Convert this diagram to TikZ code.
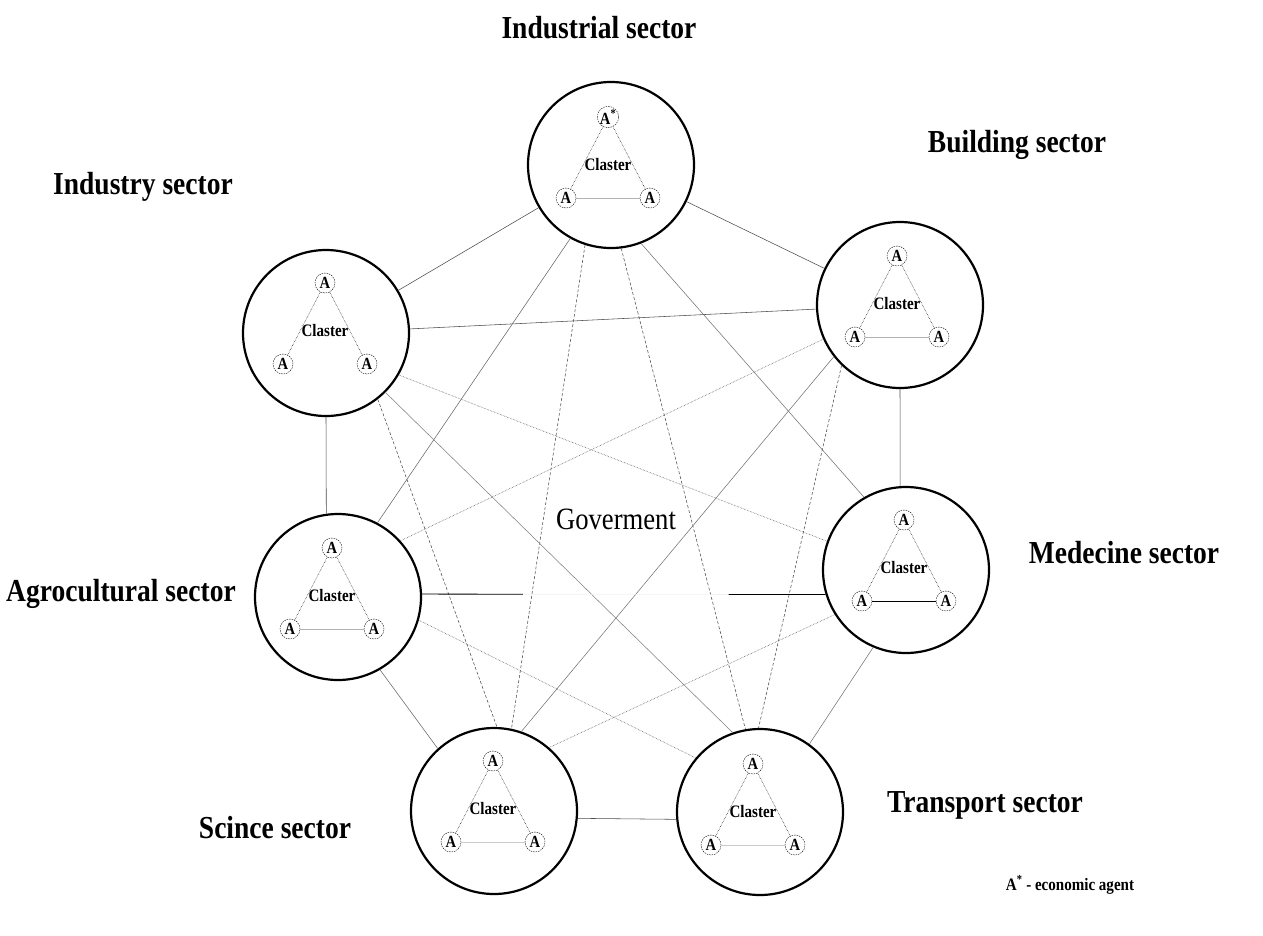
\documentclass[tikz,border=0pt]{standalone}
\usepackage{fontspec}
\usepackage{graphicx}
\setmainfont{Liberation Serif}
\usetikzlibrary{calc}
\newcommand{\tx}[1]{\scalebox{0.86}[1]{#1}}
\tikzset{
 sector/.style={circle, draw, line width=2.2pt, minimum size=166pt, inner sep=0pt},
 agent/.style={circle, draw, dash pattern=on 1.5pt off 1pt, line width=0.4pt, minimum size=20pt, inner sep=0pt, font=\fontsize{17}{17}\selectfont\bfseries},
 clabel/.style={font=\fontsize{17.5}{18}\selectfont\bfseries, inner sep=0pt},
 tside/.style={densely dotted, line width=0.5pt},
 tbase/.style={line width=0.6pt, gray!60},
 link/.style={line width=0.55pt, black!70},
 title/.style={font=\fontsize{32}{34}\selectfont\bfseries, inner sep=0pt},
}
\newcommand{\mysector}[5]{%
 \node[sector] (#1) at (#2) {};
 \node[clabel] (#1c) at (#3) {\tx{Claster}};
 \node[agent] (#1t) at ($(#3)+(0,-48)$) {\tx{#4}};
 \node[agent] (#1l) at ($(#3)+(-42,33)$) {\tx{A}};
 \node[agent] (#1r) at ($(#3)+(42,33)$) {\tx{A}};
 \draw[tside] (#1t) -- (#1l);
 \draw[tside] (#1t) -- (#1r);
 \draw[#5] (#1l) -- (#1r);
}
\begin{document}
\begin{tikzpicture}[x=1pt,y=-1pt]
\useasboundingbox (0,0) rectangle (1263,935);
% sectors
\mysector{ind}{611,165}{608,165}{A\textsuperscript{*}}{tbase}
\mysector{inds}{326,333}{325,331}{A}{draw=none}
\mysector{bld}{900,305}{897,304}{A}{tbase}
\mysector{med}{906,570}{904,568}{A}{line width=0.8pt, black}
\mysector{agr}{338,597}{332,596}{A}{tbase}
\mysector{sci}{494,811}{493,809}{A}{line width=0.6pt, gray!40}
\mysector{trn}{760,812}{753,812}{A}{line width=0.6pt, gray!40}
% titles
\node[title] (tind) at (599,28) {\tx{Industrial sector}};
\node[title] (tbld) at (1017,145) {\tx{Building sector}};
\node[title] (tinds) at (143,187) {\tx{Industry sector}};
\node[title] (tagr) at (121,594) {\tx{Agrocultural sector}};
\node[title] (tmed) at (1124,553) {\tx{Medecine sector}};
\node[title] (ttrn) at (985,805) {\tx{Transport sector}};
\node[title] (tsci) at (275,828) {\tx{Scince sector}};
\node[font=\fontsize{31}{33}\selectfont, inner sep=0pt] (gov) at (616,519) {\tx{Goverment}};
\node[font=\fontsize{17.5}{18}\selectfont\bfseries, inner sep=0pt] (legend) at (1070,885) {\tx{A\textsuperscript{*} - economic agent}};
% links
\draw[link] (ind) -- (bld);
\draw[link] (ind) -- (inds);
\draw[link, black!60] (ind.241) -- (agr.62.5);
\draw[link, densely dashed] (ind.252.6) -- (sci.78);
\draw[link, densely dashed] (ind.277) -- (trn.100);
\draw[link, black!55] (ind.291.7) -- (med.120.5);
\draw[link] (inds) -- (bld);
\draw[link] (inds.south) -- (agr.98);
\draw[link, densely dotted] (inds.-30.7) -- (med.160.3);
\draw[link, densely dashed] (inds.-52.4) -- (sci.88);
\draw[link, black!50] (inds.-45) -- (trn.109);
\draw[link] (bld.south) -- (med.94);
\draw[link, densely dotted] (bld.204.4) -- (agr.42.7);
\draw[link, black!55] (bld.218) -- (sci.71);
\draw[link, densely dashed] (bld.226) -- (trn.91.3);
\draw[line width=0.6pt, black!6] (agr.2) -- (med.197);
\draw[line width=0.8pt, black] (agr.2) -- ($(agr.2)!0.25!(med.197)$);
\draw[line width=0.8pt, black] (med.197) -- ($(med.197)!0.24!(agr.2)$);
\draw[link, densely dotted] (agr.-16) -- (trn.140);
\draw[link, black!60] (agr.-60.8) -- (sci.132.6);
\draw[link, densely dotted] (med.212.4) -- (sci.49.8);
\draw[link, black!55] (med.247) -- (trn.54);
\draw[link] (sci.-5) -- (trn.185);
\end{tikzpicture}
\end{document}
